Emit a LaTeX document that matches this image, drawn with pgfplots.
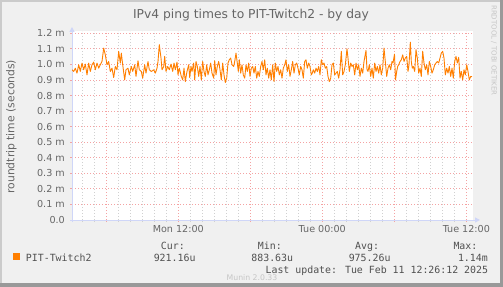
\documentclass[border=0pt]{standalone}
\usepackage{fontspec}
\setmainfont{DejaVu Sans}
\newfontfamily\monofont{DejaVu Sans Mono}
\usepackage{pgfplots}
\pgfplotsset{compat=1.18}
\usetikzlibrary{arrows.meta}
\definecolor{bg}{HTML}{F0F0F0}
\definecolor{shadea}{HTML}{CBCBCB}
\definecolor{shadeb}{HTML}{999999}
\definecolor{axiscol}{HTML}{CFD6F8}
\definecolor{fontcol}{HTML}{666666}
\definecolor{legcol}{HTML}{505050}
\definecolor{mgrid}{HTML}{F4A3A3}
\definecolor{mingrid}{HTML}{D0D0D0}
\definecolor{linecol}{HTML}{FF7F00}
\definecolor{faint}{HTML}{C6C6C6}
\begin{document}
\begin{tikzpicture}
\useasboundingbox (0,0) rectangle (503bp,287bp);
\fill[bg] (0,0) rectangle (503bp,287bp);
\fill[shadea] (0,285bp) rectangle (503bp,287bp);
\fill[shadea] (0,0) rectangle (2bp,287bp);
\fill[shadeb] (0,0) rectangle (503bp,3.5bp);
\fill[shadeb] (499.5bp,0) rectangle (503bp,287bp);
\begin{axis}[
  at={(72bp,67bp)}, anchor=south west,
  scale only axis, width=401bp, height=189bp,
  xmin=0, xmax=401, ymin=0, ymax=1.215,
  axis background/.style={fill=white},
  axis x line*=bottom, axis y line*=left,
  x axis line style={draw=axiscol, line width=1bp, shorten >=-7bp, shorten <=-2bp, -{Triangle[length=5bp,width=5bp]}},
  y axis line style={draw=axiscol, line width=1bp, shorten >=-4bp, shorten <=-2bp, -{Triangle[length=5bp,width=5bp]}},
  xtick={34.3,106.3,178.3,250.3,322.3,394.3},
  xticklabels={,Mon 12:00,,Tue 00:00,,Tue 12:00},
  minor xtick={10.3,22.3,46.3,58.3,70.3,82.3,94.3,118.3,130.3,142.3,154.3,166.3,190.3,202.3,214.3,226.3,238.3,262.3,274.3,286.3,298.3,310.3,334.3,346.3,358.3,370.3,382.3},
  ytick={0,0.1,0.2,0.3,0.4,0.5,0.6,0.7,0.8,0.9,1.0,1.1,1.2},
  yticklabels={0.0,0.1 m,0.2 m,0.3 m,0.4 m,0.5 m,0.6 m,0.7 m,0.8 m,0.9 m,1.0 m,1.1 m,1.2 m},
  xmajorgrids, xminorgrids, ymajorgrids,
  major grid style={draw=mgrid, line width=0.8bp, dash pattern=on 1bp off 2bp},
  minor grid style={draw=mingrid, line width=0.8bp, dash pattern=on 1bp off 2bp},
  tick align=outside, major tick length=2bp, minor tick length=2bp,
  major tick style={draw=mgrid, line width=0.8bp},
  minor tick style={draw=mingrid, line width=0.8bp},
  xticklabel style={font=\fontsize{9.6bp}{11bp}\selectfont, text=fontcol, inner sep=0pt, yshift=-3bp},
  yticklabel style={font=\fontsize{9.6bp}{11bp}\selectfont, text=fontcol, inner sep=0pt, xshift=-5bp},
]
\addplot[draw=linecol, line width=0.9bp, line join=round] table {
0 0.966
1.7 0.955
3.3 0.976
5 0.944
6.7 0.998
8.3 0.955
10 1.009
11.7 0.966
13.3 1.002
15 0.933
16.7 1.009
18.3 0.955
20 0.998
21.7 1.015
23.3 0.966
25 1.009
26.7 0.976
28.3 0.998
30 1.019
31.7 1.105
33.3 1.062
35 0.998
36.7 1.019
38.3 0.955
40 0.976
41.7 0.916
43.3 0.987
45 0.966
46.7 1.084
48.3 1.009
49.3 1.073
50.7 0.998
52.7 0.901
54 0.966
56 0.976
57.3 0.933
59.3 0.987
60.7 0.955
62.7 0.998
64 0.923
66 1.024
67.3 0.966
69.3 0.955
70.7 0.912
72.7 0.998
74 0.944
76 1.019
77.3 0.966
79.3 0.955
80.5 0.960
81.7 0.966
83.3 0.944
85 0.976
86 1.019
87.3 1.127
89 1.041
90 0.966
91.7 0.987
92.7 1.052
94 0.955
95.7 0.987
97.3 0.966
99 1.002
100.7 0.955
102 1.009
103.3 0.966
105 1.015
106 0.933
107.3 0.976
109.3 0.923
110.7 0.901
112 0.976
113.3 0.890
115 0.955
116.7 0.998
117.7 0.916
119 0.987
120 0.955
121.7 1.009
122.7 0.901
124 1.019
125.3 0.987
126.7 0.923
128 0.987
129.3 0.901
130.7 1.019
132 0.955
133.3 0.923
134.7 0.998
136 0.933
137.3 0.966
138.7 1.009
140 0.944
141.7 0.912
142.7 1.024
144 0.933
145.3 0.987
146.7 1.019
148 0.966
149.3 0.901
150.7 1.009
152 0.933
153.3 0.884
154.7 0.912
156 1.009
157.3 1.030
158.7 1.041
160 0.998
161.7 0.987
162.7 1.019
164 1.073
165.3 1.009
166.3 0.955
167.3 1.030
168.7 0.944
170 0.998
171.3 0.933
172.7 0.912
174 0.998
175.3 0.955
176.7 1.009
178 0.923
179.3 0.976
180.7 0.987
182 0.944
183.3 0.987
184.7 0.912
186 0.955
187.3 0.923
188.7 0.987
190 1.019
191.3 0.966
192.7 1.030
194 0.933
195.3 0.976
196.7 0.912
198 0.966
199.3 0.901
200.7 0.998
202 0.890
203.3 1.009
204.7 0.955
206 0.987
207.3 0.933
208.7 0.966
210 0.912
211.3 0.976
212.7 0.998
214 1.030
215.3 0.955
216.7 0.998
218 0.923
219.3 0.966
220.7 1.019
222 0.944
223.3 0.998
224.7 1.009
226 0.976
227.3 0.933
228.7 0.987
230 0.966
231.3 0.912
232.7 1.019
234 1.030
235.3 0.976
236.7 1.009
238 0.987
239.3 0.933
240.3 0.945
241.3 0.966
242.7 0.944
244 0.976
245.3 0.955
246.7 0.987
248 0.933
249.3 1.030
250.7 0.998
252 1.009
253.3 0.976
254.7 0.987
256 0.923
257.3 0.890
258.7 0.912
260 0.998
261.3 1.009
262.7 0.933
264 0.944
265.3 0.955
266.7 0.912
268 0.966
269.3 1.084
270.7 0.933
272 0.955
273.3 0.998
275 1.100
276 1.041
277.3 0.955
278.7 1.009
280 0.987
281.3 0.998
282.7 0.933
284 1.009
285.3 0.966
286.7 0.998
288 0.923
289.3 0.976
290.7 0.944
292 1.019
294 1.090
295 0.966
296 0.955
297.3 0.998
298.7 0.923
300 0.976
301.3 0.912
302.7 1.009
304 0.955
305.3 0.987
306.7 0.944
308 0.998
309.3 0.933
310.7 0.976
312 1.105
313.3 1.019
314.7 0.923
316 0.976
317.3 0.998
318.7 0.966
320 1.019
321 1.009
322.5 1.066
323.5 0.901
324.7 0.955
325.7 0.987
326.7 0.998
328 1.019
329.3 1.030
330.7 1.062
332 1.019
333.3 1.041
334.7 1.052
336 0.955
337 0.998
338.3 1.143
339.3 1.019
340.3 0.976
341.3 0.987
342.7 0.955
344 1.095
345.3 1.041
346.7 0.944
348 0.976
349.3 0.923
350.7 1.085
352 1.009
353.3 0.966
354.7 0.998
356 0.933
357.3 1.019
358.7 0.987
360 0.944
361.3 0.966
362.7 0.998
364 1.009
365.3 1.019
366.7 1.009
368 1.041
369.3 1.073
370.7 1.084
372 1.041
373.3 0.933
374.7 0.976
376 0.944
377.3 0.987
378.7 0.923
380 0.976
381.3 0.912
382.7 1.019
384 1.052
385.3 1.009
386.7 1.045
388 0.912
389.3 0.955
390.7 0.901
392 0.966
393.3 0.933
394.7 0.998
396 0.955
397.3 0.901
398.7 0.923
400 0.921
};
\end{axis}
\node[font=\fontsize{12.3bp}{14bp}\selectfont, text=fontcol, anchor=base] at (251bp,268bp) {IPv4 ping times to PIT-Twitch2 - by day};
\node[rotate=90, font=\fontsize{10.8bp}{12bp}\selectfont, text=fontcol] at (11.5bp,160.3bp) {roundtrip time (seconds)};
\node[rotate=-90, anchor=west, font=\fontsize{7bp}{8bp}\selectfont, text=faint, inner sep=0pt] at (494bp,282bp) {RRDTOOL / TOBI OETIKER};
\fill[linecol] (13bp,27bp) rectangle (20bp,34bp);
\begin{scope}[every node/.style={font=\monofont\fontsize{9.9bp}{11bp}\selectfont, text=legcol, inner sep=0pt}]
\node[anchor=base east] at (91.7bp,26bp) {PIT-Twitch2};
\node[anchor=base west] at (160.7bp,38bp) {Cur:};
\node[anchor=base west] at (257.7bp,38bp) {Min:};
\node[anchor=base west] at (355bp,38bp) {Avg:};
\node[anchor=base west] at (453.3bp,38bp) {Max:};
\node[anchor=base east] at (195.7bp,26bp) {921.16u};
\node[anchor=base east] at (293.3bp,26bp) {883.63u};
\node[anchor=base east] at (390.7bp,26bp) {975.26u};
\node[anchor=base east] at (488bp,26bp) {1.14m};
\node[anchor=base east] at (488.3bp,13.7bp) {Last update: Tue Feb 11 12:26:12 2025};
\end{scope}
\node[font=\fontsize{7.75bp}{9bp}\selectfont, text=faint, anchor=base, inner sep=0pt] at (252bp,7bp) {Munin 2.0.33};
\end{tikzpicture}
\end{document}
